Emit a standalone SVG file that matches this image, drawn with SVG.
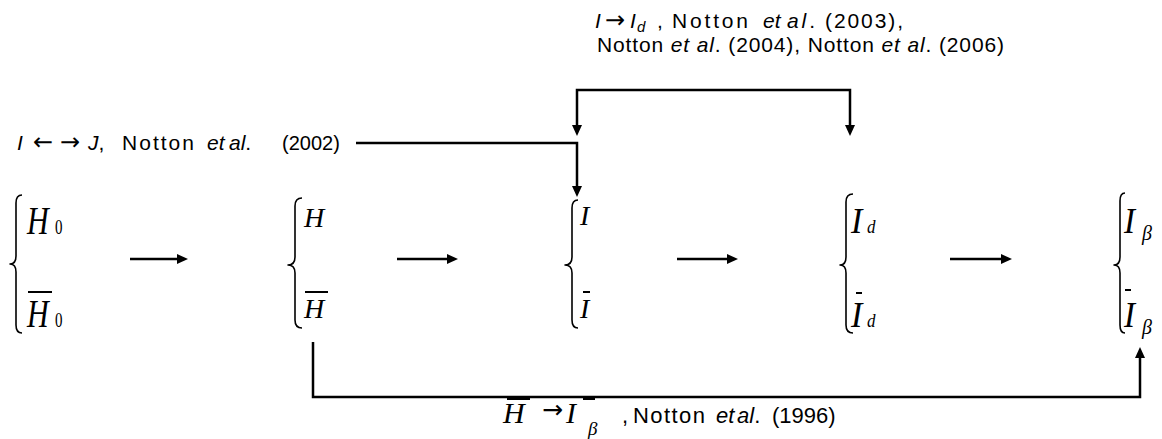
<svg xmlns="http://www.w3.org/2000/svg" width="1162" height="439" viewBox="0 0 1162 439">
<defs>
<marker id="ah" viewBox="0 0 11 10" refX="2" refY="5" markerWidth="11" markerHeight="10" markerUnits="userSpaceOnUse" orient="auto-start-reverse"><path d="M0,0 L11,5 L0,10 z" fill="#000"/></marker>
</defs>
<style>
.sans{font-family:"Liberation Sans",Arial,sans-serif;fill:#000}
.arr{font-family:"DejaVu Sans",sans-serif;fill:#000}
.it{font-style:italic}
.math{font-family:"Liberation Serif","Times New Roman",serif;font-style:italic;fill:#000}
.up{font-style:normal}
.conn{fill:none;stroke:#000;stroke-width:2.5}
.brace{fill:none;stroke:#000;stroke-width:1.6;stroke-linejoin:round}
.bar{stroke:#000;stroke-width:2}
</style>
<rect width="1162" height="439" fill="#fff"/>

<g id="connectors">
<path class="conn" d="M130,259 H179" marker-end="url(#ah)"/>
<path class="conn" d="M397,259 H449" marker-end="url(#ah)"/>
<path class="conn" d="M677,259 H729" marker-end="url(#ah)"/>
<path class="conn" d="M950,259 H1003" marker-end="url(#ah)"/>
<path class="conn" d="M356,143 H577 V188" marker-end="url(#ah)"/>
<path class="conn" d="M577,127 V90 H850 V127" marker-start="url(#ah)" marker-end="url(#ah)"/>
<path class="conn" d="M313,342 V397 H1140 V356" marker-end="url(#ah)"/>
</g>

<g id="node-h0">
<path class="brace" d="M22,195 Q16,195 16,203 L16,256 Q16,264 10,264 Q16,264 16,272 L16,325 Q16,333 22,333"/>
<g transform="translate(27,234) scale(1,1.35)"><text class="math" font-size="30">H</text><text class="math up" x="28" font-size="15">0</text></g>
<line class="bar" x1="28" y1="292" x2="52" y2="292"/>
<g transform="translate(27,327) scale(1,1.35)"><text class="math" font-size="30">H</text><text class="math up" x="28" font-size="15">0</text></g>
</g>

<g id="node-h">
<path class="brace" d="M302,198 Q295,198 295,206 L295,257 Q295,265 288,265 Q295,265 295,273 L295,320 Q295,328 302,328"/>
<text class="math" x="304" y="227" font-size="28">H</text>
<line class="bar" x1="305" y1="292" x2="328" y2="292"/>
<text class="math" x="304" y="318" font-size="28">H</text>
</g>

<g id="node-i">
<path class="brace" d="M578,200 Q572,200 572,208 L572,257 Q572,265 565,265 Q572,265 572,273 L572,320 Q572,328 578,328"/>
<text class="math" x="580" y="225" font-size="28">I</text>
<line class="bar" x1="583" y1="292" x2="590" y2="292"/>
<text class="math" x="580" y="318" font-size="28">I</text>
</g>

<g id="node-id">
<path class="brace" d="M853,194 Q846,194 846,202 L846,257 Q846,265 840,265 Q846,265 846,273 L846,325 Q846,333 853,333"/>
<g transform="translate(851,233) scale(1,1.05)"><text class="math" font-size="34">I</text><text class="math" x="16" font-size="17">d</text></g>
<line class="bar" x1="856" y1="293" x2="862" y2="293"/>
<g transform="translate(851,327) scale(1,1.05)"><text class="math" font-size="34">I</text><text class="math" x="16" font-size="17">d</text></g>
</g>

<g id="node-ibeta">
<path class="brace" d="M1125,193 Q1120,193 1120,201 L1120,257 Q1120,265 1114,265 Q1120,265 1120,273 L1120,325 Q1120,333 1125,333"/>
<g transform="translate(1124,233) scale(1,1.1)"><text class="math" font-size="33">I</text><text class="math" x="18" y="6" font-size="20">β</text></g>
<line class="bar" x1="1125" y1="290" x2="1131" y2="290"/>
<g transform="translate(1124,327) scale(1,1.1)"><text class="math" font-size="33">I</text><text class="math" x="18" y="6" font-size="20">β</text></g>
</g>

<g id="labels">
<g id="label-ij">
<text class="sans it" x="17" y="150" font-size="21">I</text>
<text class="arr" x="33" y="150" font-size="24">←</text>
<text class="arr" x="60" y="150" font-size="24">→</text>
<text class="sans it" x="88" y="150" font-size="21">J<tspan class="up">,</tspan></text>
<text class="sans" x="122" y="150" font-size="21" textLength="72" lengthAdjust="spacing">Notton</text>
<text class="sans it" x="207" y="150" font-size="21">et</text>
<text class="sans it" x="229" y="150" font-size="21">al<tspan class="up">.</tspan></text>
<text class="sans" x="282" y="150" font-size="20">(2002)</text>
</g>
<g id="label-iid">
<text class="sans it" x="595" y="28" font-size="21">I</text>
<text class="arr" x="605" y="28" font-size="24">→</text>
<text class="sans it" x="630" y="28" font-size="21">I</text>
<text class="sans it" x="637" y="32" font-size="15">d</text>
<text class="sans" x="657" y="28" font-size="21">,</text>
<text class="sans" x="672" y="28" font-size="21" textLength="76" lengthAdjust="spacing">Notton</text>
<text class="sans it" x="763" y="28" font-size="21">et</text>
<text class="sans it" x="787" y="28" font-size="21" textLength="28" lengthAdjust="spacing">al<tspan class="up">.</tspan></text>
<text class="sans" x="825" y="28" font-size="21" textLength="78" lengthAdjust="spacing">(2003),</text>
<text class="sans" x="597" y="52" font-size="21" textLength="407" lengthAdjust="spacing">Notton <tspan class="it">et al</tspan>. (2004), Notton <tspan class="it">et al</tspan>. (2006)</text>
</g>
<g id="label-hib">
<text class="math" x="503" y="423" font-size="30">H</text>
<line class="bar" x1="507" y1="399" x2="530" y2="399"/>
<text class="arr" x="542" y="418" font-size="25">→</text>
<text class="math" x="566" y="423" font-size="30">I</text>
<line class="bar" x1="583" y1="399" x2="595" y2="399"/>
<text class="math" x="588" y="435" font-size="19">β</text>
<text class="sans" x="622" y="423" font-size="22">,</text>
<text class="sans" x="633" y="423" font-size="22" textLength="72" lengthAdjust="spacing">Notton</text>
<text class="sans it" x="716" y="423" font-size="22">et</text>
<text class="sans it" x="737" y="423" font-size="22">al<tspan class="up">.</tspan></text>
<text class="sans" x="772" y="423" font-size="22">(1996)</text>
</g>
</g>
</svg>
